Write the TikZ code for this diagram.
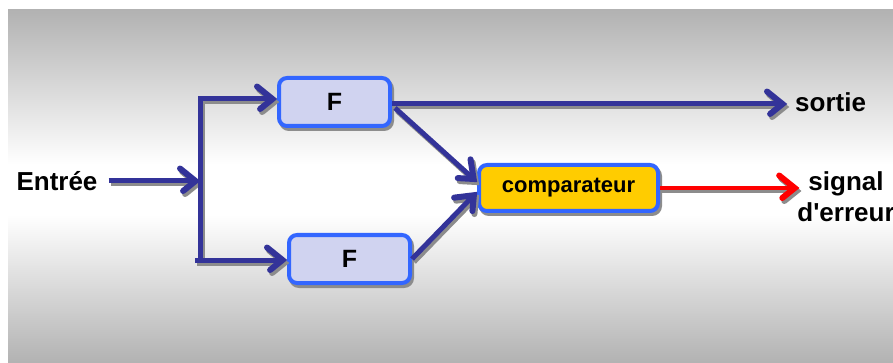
\documentclass[tikz,border=0pt]{standalone}
\usepackage{fontspec}
\setmainfont{Liberation Sans}
\usetikzlibrary{decorations.markings}
\definecolor{lineblue}{RGB}{51,51,153}
\definecolor{boxblue}{RGB}{51,102,255}
\definecolor{ffill}{RGB}{208,211,240}
\definecolor{compyellow}{RGB}{255,204,0}
\definecolor{bggray}{RGB}{178,178,178}
\definecolor{shadowgray}{RGB}{140,140,140}
\newcommand\myconn[4]{%
  \draw[flow=#2] ([shift={#1}]Ein) -- ([shift={#1}]J);
  \draw[flow=#2] ([shift={#1}]Jb) -- ([shift={#1}]Jt) -- ([shift={#1}]F1in);
  \draw[flow=#2] ([shift={#1}]Jbb) -- ([shift={#1}]F2in);
  \draw[flow=#2] ([shift={#1}]F1o) -- ([shift={#1}]So);
  \draw[flow=#2] ([shift={#1}]F1d) -- ([shift={#1}]Cin1);
  \draw[flow=#2] ([shift={#1}]F2o) -- ([shift={#1}]Cin2);
  \draw[flow=#3, line width=#4] ([shift={#1}]Co) -- ([shift={#1}]Eo);
}
\begin{document}
\begin{tikzpicture}[x=1pt,y=-1pt,
  boxshape/.style={line width=4pt, rounded corners=8pt, inner sep=0pt, minimum height=48pt},
  fbox/.style={boxshape, draw=boxblue, fill=ffill,
    font=\fontsize{25}{28}\selectfont\bfseries},
  fshadow/.style={boxshape, draw=shadowgray, fill=shadowgray},
  chev/.style={line width=6pt, line cap=round, line join=miter},
  flow/.default=lineblue,
  flow/.style={draw=#1, line width=5pt, shorten >=4pt,
    postaction={decorate, decoration={markings, mark=at position 1 with {
      \draw[chev, #1] (-20pt,12.5pt) -- (-4.5pt,0pt) -- (-20pt,-12.5pt);}}}},
  lbl/.style={font=\fontsize{26}{31}\selectfont\bfseries, inner sep=0pt}
]
\useasboundingbox (0,0) rectangle (893,363);
\fill[white] (0,0) rectangle (893,363);
\shade[top color=bggray, bottom color=white] (8,10) rectangle (893,165);
\fill[white] (8,164) rectangle (893,216);
\shade[top color=white, bottom color=bggray] (8,215) rectangle (893,363);

% box shadows
\node[fshadow, minimum width=111pt] (F1s) at (336.5,105) {};
\node[fshadow, minimum width=121pt] (F2s) at (351.5,262) {};
\node[fshadow, minimum width=179pt, minimum height=46pt] (Cs) at (570.5,191) {};

% boxes
\node[fbox, minimum width=111pt] (F1) at (334.5,102) {F};
\node[fbox, minimum width=121pt] (F2) at (349.5,259) {F};
\node[fbox, fill=compyellow, minimum width=179pt, minimum height=46pt,
  font=\fontsize{22}{24}\selectfont\bfseries] (C) at (568.5,188) {comparateur};

% labels
\node[lbl] (E) at (57,181) {Entrée};
\node[lbl, anchor=west] (S) at (795,102) {sortie};
\node[lbl, align=center] (Err) at (846,197) {signal\\d\textquotesingle erreur};

% connector points
\coordinate (Ein) at ([xshift=11pt]E.east);
\coordinate (J) at (200,181);
\coordinate (Jt) at (200,99);
\coordinate (Jb) at (200,260);
\coordinate (Jbb) at ([xshift=-5pt]Jb);
\coordinate (F1in) at (F1.west |- Jt);
\coordinate (F2in) at (F2.west |- Jb);
\coordinate (F1o) at ([yshift=-2pt]F1.east);
\coordinate (S0) at (S.west |- F1o);
\coordinate (So) at ([xshift=-8pt]S0);
\coordinate (F1d) at ([shift={(3pt,-6pt)}]F1.east);
\coordinate (Cin1) at ([yshift=6pt]C.west);
\coordinate (F2o) at (F2.east);
\coordinate (Cin2) at ([yshift=-4pt]C.west);
\coordinate (Co) at (C.east);
\coordinate (Eo) at ([xshift=2pt]Err.west |- C.east);

% connector shadows, then connectors
\myconn{(2pt,-3pt)}{shadowgray}{shadowgray}{4.5pt}
\myconn{(0pt,0pt)}{lineblue}{red}{4.5pt}
\end{tikzpicture}
\end{document}
